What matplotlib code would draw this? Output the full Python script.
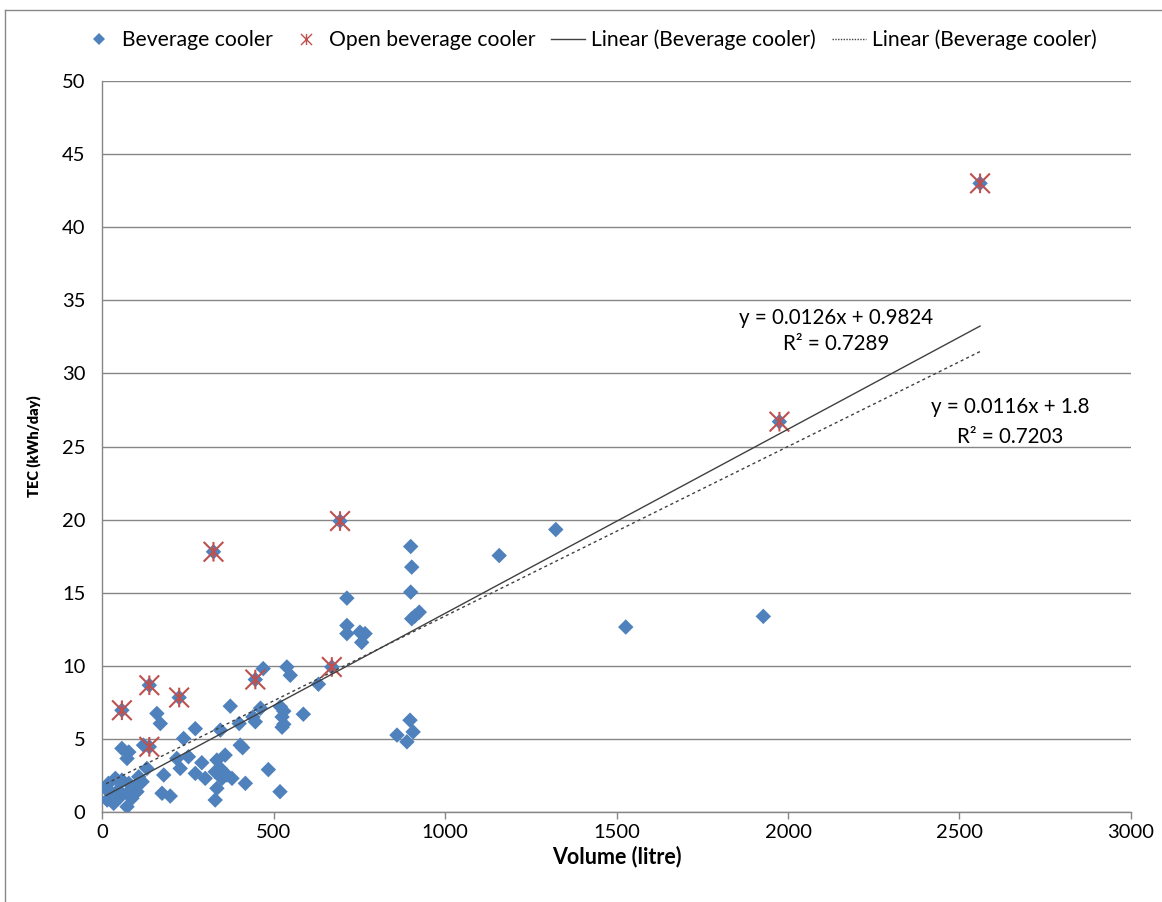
import matplotlib
matplotlib.use("Agg")
import matplotlib.pyplot as plt
from matplotlib.path import Path
from matplotlib.lines import Line2D
import numpy as np

plt.rcParams['font.family'] = ['Lato', 'DejaVu Sans']

# Beverage cooler data (volume litre, TEC kWh/day)
bev_x = [10, 15, 19, 24, 34, 39, 48, 53, 58, 58, 73, 73, 78, 78, 78, 87, 97, 102, 107, 117,
         121, 131, 160, 170, 175, 180, 199, 218, 228, 238, 252, 272, 272, 291, 301, 330, 330,
         335, 335, 345, 345, 350, 359, 364, 374, 379, 400, 403, 410, 418, 440, 447, 462, 470,
         485, 519, 520, 525, 530, 525, 530, 539, 549, 587, 631, 714, 714, 714, 752, 767, 757,
         860, 889, 898, 907, 900, 903, 900, 903, 912, 925, 1158, 1323, 1527, 1928,
         58, 138, 225, 138, 447, 670, 325, 694, 1975, 2560]
bev_y = [1.62, 0.82, 1.96, 1.39, 0.59, 2.3, 1.5, 1.04, 2.18, 4.35, 0.36, 3.66, 4.1, 1.96, 1.39,
         0.93, 1.73, 1.39, 2.41, 2.07, 4.57, 2.98, 6.74, 6.05, 1.28, 2.53, 1.09, 3.66, 2.98, 5.03,
         3.78, 5.7, 2.64, 3.37, 2.3, 2.75, 0.82, 3.55, 1.62, 5.6, 2.98, 2.3, 3.89, 2.53, 7.24,
         2.3, 6.05, 4.57, 4.4, 1.96, 6.5, 6.17, 7.1, 9.81, 2.9, 1.39, 7.2, 6.5, 6.9, 5.8, 6.0,
         9.92, 9.35, 6.69, 8.74, 14.63, 12.76, 12.2, 12.3, 12.2, 11.6, 5.26, 4.8, 6.28, 5.48,
         18.16, 16.75, 15.04, 13.22, 13.4, 13.67, 17.54, 19.32, 12.65, 13.38,
         6.96, 8.67, 7.83, 4.46, 9.06, 9.92, 17.8, 19.9, 26.7, 43.0]

# Open beverage cooler data
open_x = [58, 138, 225, 138, 447, 670, 325, 694, 1975, 2560]
open_y = [6.96, 8.67, 7.83, 4.46, 9.06, 9.92, 17.8, 19.9, 26.7, 43.0]

# Trend line coefficients (slope, intercept) and labels
fit1 = (0.0126, 0.9824)
fit2 = (0.0116, 1.8)
fit_range = (12, 2560)
eq1 = ["y = 0.0126x + 0.9824", "R² = 0.7289"]
eq2 = ["y = 0.0116x + 1.8", "R² = 0.7203"]

x_ticks = [0, 500, 1000, 1500, 2000, 2500, 3000]
y_ticks = [0, 5, 10, 15, 20, 25, 30, 35, 40, 45, 50]

blue = '#4F81BD'
red = '#C0504D'
grid_c = '#868686'

star = Path([(-1, -1), (1, 1), (-1, 1), (1, -1), (0, -1), (0, 1)],
            [Path.MOVETO, Path.LINETO, Path.MOVETO, Path.LINETO, Path.MOVETO, Path.LINETO])

fig = plt.figure(figsize=(11.62, 9.02), dpi=100)
ax = fig.add_axes([102/1162, 1-812/902, (1131-102)/1162, (812-81)/902])

ax.scatter(bev_x, bev_y, marker='D', s=62, color=blue, edgecolors='none', zorder=3)
ax.scatter(open_x, open_y, marker=star, s=200, facecolors='none', edgecolors=red,
           linewidths=1.5, zorder=4)

xs = np.array(fit_range, dtype=float)
ax.plot(xs, fit1[0]*xs + fit1[1], color='#404040', lw=1.0, zorder=5)
ax.plot(xs, fit2[0]*xs + fit2[1], color='#404040', lw=1.0, linestyle=(0, (2.2, 2.2)), zorder=5)

ax.set_xlim(0, 3000)
ax.set_ylim(0, 50)
ax.set_xticks(x_ticks)
ax.set_yticks(y_ticks)
ax.tick_params(axis='both', labelsize=14.5, colors='black', length=5, width=1,
               direction='out', color=grid_c)
ax.tick_params(axis='y', length=0, pad=12)
ax.tick_params(axis='x', pad=4)
ax.grid(axis='y', color=grid_c, lw=1)
ax.set_axisbelow(True)
for s in ['top', 'right']:
    ax.spines[s].set_visible(False)
for s in ['left', 'bottom']:
    ax.spines[s].set_color(grid_c)
    ax.spines[s].set_linewidth(1)

ax.set_xlabel('Volume (litre)', fontsize=15.5, fontweight='bold', labelpad=3)
ax.set_ylabel('TEC (kWh/day)', fontsize=10.5, fontweight='heavy', labelpad=15)

ax.text(2141, 33.8, eq1[0], fontsize=14.8, ha='center', va='center')
ax.text(2141, 32.0, eq1[1], fontsize=14.8, ha='center', va='center')
ax.text(2649, 27.73, eq2[0], fontsize=14.8, ha='center', va='center')
ax.text(2649, 25.68, eq2[1], fontsize=14.8, ha='center', va='center')

handles = [
    Line2D([], [], marker='D', color=blue, linestyle='none', markersize=6, markeredgewidth=0),
    Line2D([], [], marker=star, color=red, linestyle='none', markersize=8, markeredgewidth=1,
           markerfacecolor='none'),
    Line2D([], [], color='#404040', lw=1),
    Line2D([], [], color='#404040', lw=1, linestyle=(0, (1, 1))),
]
labels = ['Beverage cooler', 'Open beverage cooler', 'Linear (Beverage cooler)',
          'Linear (Beverage cooler)']
fig.legend(handles, labels, loc='center left', bbox_to_anchor=(82/1162, 1-40/902), ncol=4,
           frameon=False, fontsize=15.2, handlelength=1.6, handletextpad=0.3,
           columnspacing=0.75, borderpad=0, borderaxespad=0)

fig.add_artist(Line2D([5/1162, 1], [1-10/902, 1-10/902], color='#888888', lw=1,
                      transform=fig.transFigure))
fig.add_artist(Line2D([5/1162, 5/1162], [0, 1-10/902], color='#888888', lw=1,
                      transform=fig.transFigure))

fig.savefig('out.png', dpi=100)
